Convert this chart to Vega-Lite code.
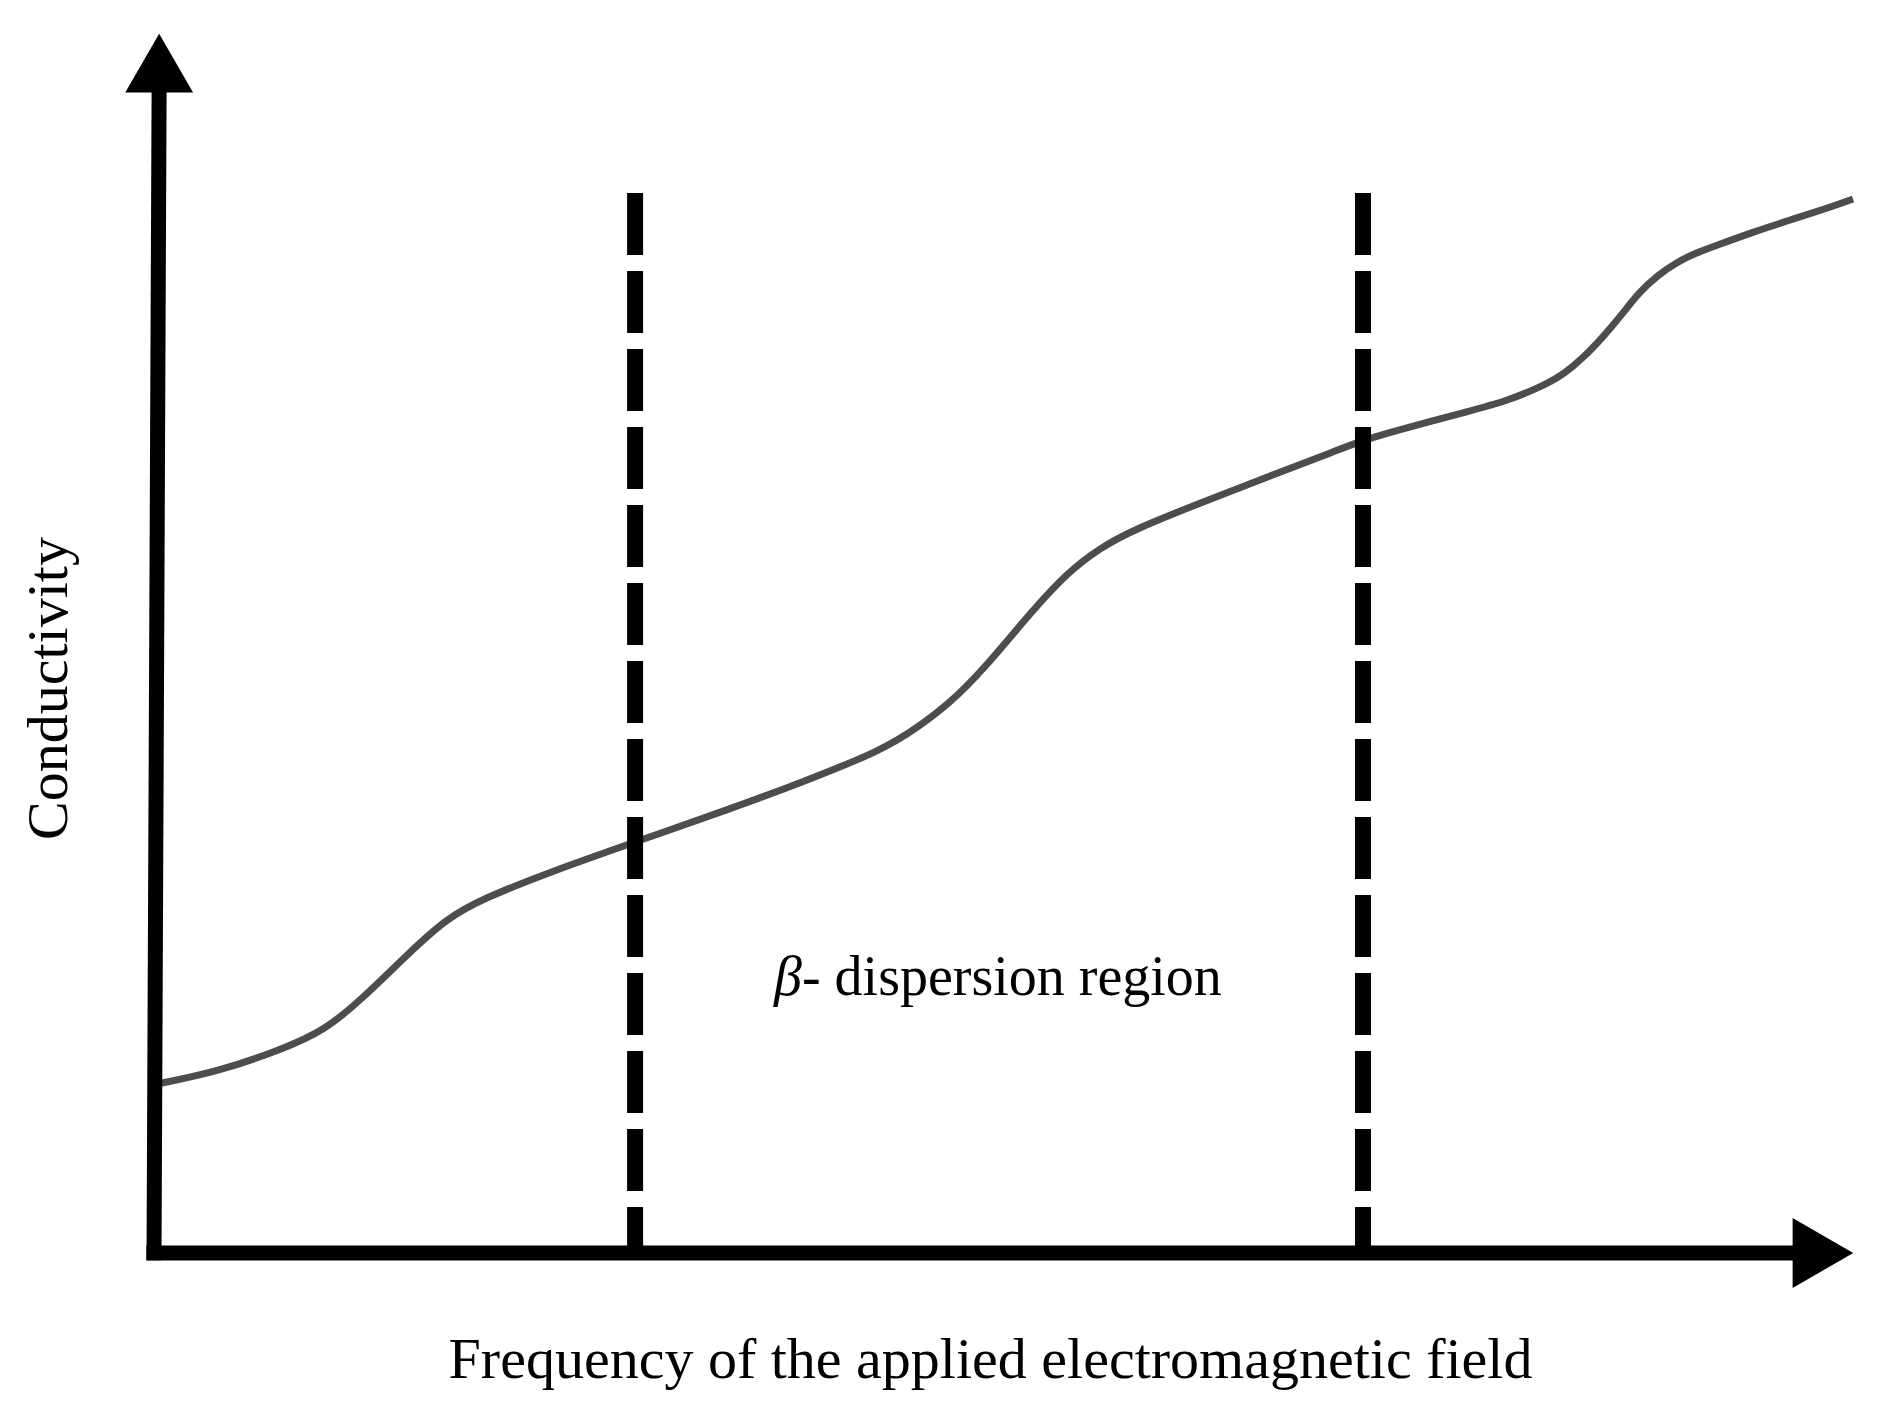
{
  "$schema": "https://vega.github.io/schema/vega-lite/v6.json",
  "autosize": {"type": "none"},
  "padding": {"left": 154, "top": 30, "right": 15, "bottom": 164},
  "width": 1720,
  "height": 1223,
  "background": "white",
  "config": {
    "view": {"stroke": null},
    "font": "Liberation Serif",
    "axis": {
      "labels": false, "ticks": false, "domain": false, "grid": false,
      "titleFont": "Liberation Serif", "titleFontSize": 58, "titleFontWeight": "normal",
      "titleColor": "black", "titleAlign": "center", "titleBaseline": "alphabetic"
    },
    "axisX": {"titleX": 836, "titleY": 124, "titleAngle": 0},
    "axisY": {"titleX": -88, "titleY": 658, "titleAngle": 270}
  },
  "datasets": {
    "curve": [
      {"freq": 0.17, "cond": 13.82}, {"freq": 3.66, "cond": 14.80}, {"freq": 7.50, "cond": 16.68},
      {"freq": 9.94, "cond": 18.23}, {"freq": 12.03, "cond": 20.69}, {"freq": 14.88, "cond": 24.61},
      {"freq": 16.98, "cond": 27.31}, {"freq": 19.07, "cond": 28.95}, {"freq": 23.02, "cond": 31.15},
      {"freq": 27.79, "cond": 33.52}, {"freq": 33.66, "cond": 36.39}, {"freq": 37.56, "cond": 38.43},
      {"freq": 42.38, "cond": 41.13}, {"freq": 44.36, "cond": 42.93}, {"freq": 46.28, "cond": 44.97},
      {"freq": 48.20, "cond": 47.67}, {"freq": 51.10, "cond": 52.58}, {"freq": 53.08, "cond": 55.60},
      {"freq": 55.00, "cond": 57.65}, {"freq": 56.92, "cond": 59.12}, {"freq": 60.81, "cond": 61.32},
      {"freq": 64.71, "cond": 63.45}, {"freq": 68.55, "cond": 65.49}, {"freq": 70.29, "cond": 66.48},
      {"freq": 73.20, "cond": 67.62}, {"freq": 76.51, "cond": 68.85}, {"freq": 78.66, "cond": 69.66},
      {"freq": 80.87, "cond": 70.97}, {"freq": 81.98, "cond": 71.87}, {"freq": 83.08, "cond": 73.18},
      {"freq": 84.19, "cond": 74.82}, {"freq": 85.23, "cond": 76.53}, {"freq": 86.34, "cond": 78.57},
      {"freq": 87.44, "cond": 79.97}, {"freq": 88.55, "cond": 81.03}, {"freq": 89.65, "cond": 81.77},
      {"freq": 90.76, "cond": 82.34}, {"freq": 92.97, "cond": 83.48}, {"freq": 95.12, "cond": 84.46},
      {"freq": 97.33, "cond": 85.45}, {"freq": 98.78, "cond": 86.18}
    ],
    "bounds": [
      {"freq": 27.97, "top": 86.67, "bottom": 0},
      {"freq": 70.29, "top": 86.67, "bottom": 0}
    ],
    "axesLines": [
      {"x1": 0, "x2": 0.3, "y1": -0.6, "y2": 96.2},
      {"x1": -0.44, "x2": 96.0, "y1": 0, "y2": 0}
    ],
    "arrowUp": [{"freq": 0.3, "cond": 97.3}],
    "arrowRight": [{"freq": 97.03, "cond": 0}],
    "beta": [{"label": "β", "freq": 37.67, "cond": 21.1}],
    "region": [{"label": "- dispersion region", "freq": 37.67, "cond": 21.1}]
  },
  "layer": [
    {
      "data": {"name": "curve"},
      "mark": {"type": "line", "interpolate": "basis", "color": "#4d4d4d", "strokeWidth": 7},
      "encoding": {
        "x": {
          "field": "freq", "type": "quantitative",
          "scale": {"domain": [0, 100], "nice": false, "zero": false},
          "title": "Frequency of the applied electromagnetic field"
        },
        "y": {
          "field": "cond", "type": "quantitative",
          "scale": {"domain": [0, 100], "nice": false, "zero": false},
          "title": "Conductivity"
        }
      }
    },
    {
      "data": {"name": "bounds"},
      "mark": {"type": "rule", "color": "black", "strokeWidth": 16, "strokeDash": [62, 16], "strokeCap": "butt"},
      "encoding": {
        "x": {"field": "freq", "type": "quantitative", "title": "Frequency of the applied electromagnetic field"},
        "y": {"field": "top", "type": "quantitative", "title": "Conductivity"},
        "y2": {"field": "bottom"}
      }
    },
    {
      "data": {"name": "axesLines"},
      "mark": {"type": "rule", "color": "black", "strokeWidth": 15, "strokeCap": "butt"},
      "encoding": {
        "x": {"field": "x1", "type": "quantitative", "title": "Frequency of the applied electromagnetic field"},
        "x2": {"field": "x2"},
        "y": {"field": "y1", "type": "quantitative", "title": "Conductivity"},
        "y2": {"field": "y2"}
      }
    },
    {
      "data": {"name": "arrowUp"},
      "mark": {"type": "point", "shape": "triangle-up", "filled": true, "color": "black", "opacity": 1, "size": 4600, "strokeWidth": 0},
      "encoding": {
        "x": {"field": "freq", "type": "quantitative", "title": "Frequency of the applied electromagnetic field"},
        "y": {"field": "cond", "type": "quantitative", "title": "Conductivity"}
      }
    },
    {
      "data": {"name": "arrowRight"},
      "mark": {"type": "point", "shape": "triangle-right", "filled": true, "color": "black", "opacity": 1, "size": 4900, "strokeWidth": 0},
      "encoding": {
        "x": {"field": "freq", "type": "quantitative", "title": "Frequency of the applied electromagnetic field"},
        "y": {"field": "cond", "type": "quantitative", "title": "Conductivity"}
      }
    },
    {
      "data": {"name": "beta"},
      "mark": {"type": "text", "font": "Liberation Serif", "fontSize": 56, "fontStyle": "italic", "align": "right", "baseline": "alphabetic", "color": "black"},
      "encoding": {
        "x": {"field": "freq", "type": "quantitative", "title": "Frequency of the applied electromagnetic field"},
        "y": {"field": "cond", "type": "quantitative", "title": "Conductivity"},
        "text": {"field": "label"}
      }
    },
    {
      "data": {"name": "region"},
      "mark": {"type": "text", "font": "Liberation Serif", "fontSize": 56, "align": "left", "baseline": "alphabetic", "color": "black"},
      "encoding": {
        "x": {"field": "freq", "type": "quantitative", "title": "Frequency of the applied electromagnetic field"},
        "y": {"field": "cond", "type": "quantitative", "title": "Conductivity"},
        "text": {"field": "label"}
      }
    }
  ]
}
